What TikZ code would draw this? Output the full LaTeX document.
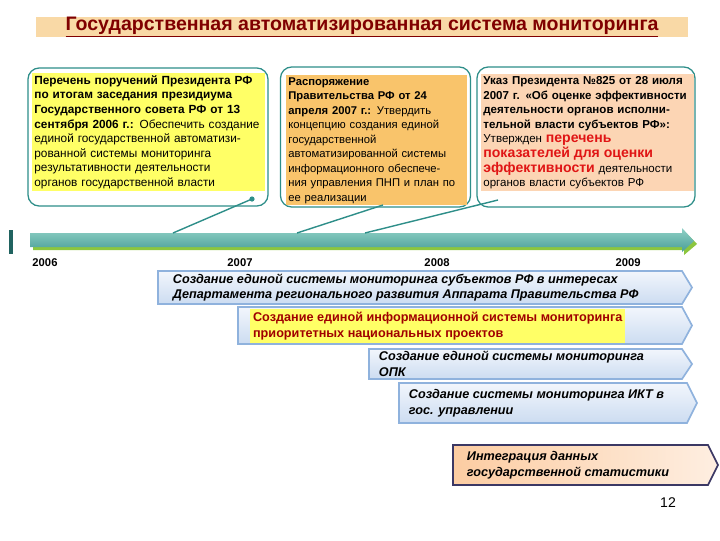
\documentclass[tikz,border=0pt]{standalone}
\usepackage{fontspec}
\setmainfont{Liberation Sans}
\usetikzlibrary{arrows.meta,positioning,calc,backgrounds}
\definecolor{titlebar}{HTML}{F9D9A6}
\definecolor{titletext}{HTML}{800000}
\definecolor{tealline}{HTML}{2E8E89}
\definecolor{hlyellow}{HTML}{FFFF66}
\definecolor{hlorange}{HTML}{F9C46B}
\definecolor{hlpeach}{HTML}{FCD5B4}
\definecolor{redtext}{HTML}{E01515}
\definecolor{darkred}{HTML}{A00000}
\definecolor{chevedge}{HTML}{8FB2DD}
\definecolor{chevtop}{HTML}{F2F6FC}
\definecolor{chevbot}{HTML}{CCDCF1}
\definecolor{navy}{HTML}{3B3864}
\definecolor{tltop}{HTML}{8FD0C6}
\definecolor{tlbot}{HTML}{4A9F97}
\definecolor{tlgreen}{HTML}{8CC63F}

% chevron bar: left x, top y, tip x, bottom y (in px)
\newcommand{\chevbar}[5][]{%
  \path[chev,#1] (#2,#3) -- ({#4-10},#3) -- (#4,{(#3+#5)/2}) -- ({#4-10},#5) -- (#2,#5) -- cycle;}
\newcommand{\redbig}[1]{{\color{redtext}\fontsize{10}{10.6}\selectfont\bfseries #1}}

\begin{document}
\begin{tikzpicture}[x=0.025cm, y=-0.025cm,
    callout/.style={draw=tealline, line width=0.9pt, rounded corners=8pt, fill=white},
    doctext/.style={anchor=north west, align=left, inner sep=1.5pt, font=\fontsize{8.4}{10.4}\selectfont},
    chev/.style={draw=chevedge, line width=1.2pt, top color=chevtop, bottom color=chevbot},
    chevtext/.style={anchor=west, align=left, font=\fontsize{9}{11}\selectfont\bfseries\itshape},
    tail/.style={draw=tealline, line width=1pt},
    year/.style={font=\fontsize{8}{9}\selectfont\bfseries},
]
\useasboundingbox (0,0) rectangle (720,540);

% title
\node[fill=titlebar, minimum width=16.3cm, minimum height=0.5cm, inner sep=0pt,
      font=\fontsize{13.9}{16}\selectfont\bfseries, text=titletext] (title) at (362,27)
      {\underline{Государственная автоматизированная система мониторинга}};

% document boxes
\node[callout, minimum width=6cm, minimum height=3.45cm] (box1) at (148,137) {};
\node[callout, minimum width=4.75cm, minimum height=3.5cm] (box2) at (375.5,137) {};
\node[callout, minimum width=5.45cm, minimum height=3.5cm] (box3) at (586,137) {};

\node[doctext, fill=hlyellow, text width=5.7cm] (doc1) at (32,73)
  {\textbf{Перечень поручений Президента РФ}\\
   \textbf{по итогам заседания президиума}\\
   \textbf{Государственного совета РФ от 13}\\
   \textbf{сентября 2006 г.:} Обеспечить создание\\
   единой государственной автоматизи-\\
   рованной системы мониторинга\\
   результативности деятельности\\
   органов государственной власти};
\node[doctext, fill=hlorange, text width=4.4cm, font=\fontsize{8}{10.3}\selectfont] (doc2) at (286,75)
  {\textbf{Распоряжение}\\
   \textbf{Правительства РФ от 24}\\
   \textbf{апреля 2007 г.:} Утвердить\\
   концепцию создания единой\\
   государственной\\
   автоматизированной системы\\
   информационного обеспече-\\
   ния управления ПНП и план по\\
   ее реализации};
\node[doctext, fill=hlpeach, text width=5.2cm, font=\fontsize{8.2}{10.4}\selectfont] (doc3) at (481,74)
  {\textbf{Указ Президента №825 от 28 июля}\\
   \textbf{2007 г. «Об оценке эффективности}\\
   \textbf{деятельности органов исполни-}\\
   \textbf{тельной власти субъектов РФ»:}\\
   Утвержден \redbig{перечень}\\
   \redbig{показателей для оценки}\\
   \redbig{эффективности} деятельности\\
   органов власти субъектов РФ};

% timeline
\fill[tlgreen] (33,236) -- (684,236) -- (684,231) -- (697,244) -- (684,255) -- (684,250) -- (33,250) -- cycle;
\path[top color=tltop, bottom color=tlbot] (30,233) -- (682,233) -- (682,228) -- (694,241) -- (682,252) -- (682,247) -- (30,247) -- cycle;
\draw[draw=tealline!70!black, line width=2.2pt] (11,230) -- (11,254);
\coordinate (t1) at (173,233);
\coordinate (t2) at (297,233);
\coordinate (t3) at (365,233);
\coordinate (c1) at (252,199);
\coordinate (c2) at (383,205);
\coordinate (c3) at (498,200);
\draw[tail] (c1) -- (t1);
\fill[tealline] (c1) circle (2.6);
\draw[tail] (c2) -- (t2);
\draw[tail] (c3) -- (t3);

\node[year] (y2006) at (45,263) {2006};
\node[year] (y2007) at (240,263) {2007};
\node[year] (y2008) at (437,263) {2008};
\node[year] (y2009) at (628,263) {2009};

% activity bars
\chevbar{158}{271}{692}{304}
\node[chevtext] (bar1) at (168,287.5)
  {Создание единой системы мониторинга субъектов РФ в интересах\\
   Департамента регионального развития Аппарата Правительства РФ};
\chevbar{238}{307}{692}{344}
\node[chevtext, fill=hlyellow, text=darkred, font=\fontsize{9}{11}\selectfont\bfseries, inner sep=2pt] (bar2) at (250,326)
  {Создание единой информационной системы мониторинга\\
   приоритетных национальных проектов};
\chevbar{369}{349}{692}{379}
\node[chevtext] (bar3) at (374,364)
  {Создание единой системы мониторинга\\
   ОПК};
\chevbar{399}{383}{697}{423}
\node[chevtext] (bar4) at (404,403)
  {Создание системы мониторинга ИКТ в\\
   гос. управлении};
\chevbar[draw=navy, left color=hlpeach!90!orange, right color=hlpeach!40]{453}{445}{718}{485}
\node[chevtext] (bar5) at (462,465)
  {Интеграция данных\\
   государственной статистики};

\node[font=\fontsize{10}{12}\selectfont] (pagenum) at (668,503) {12};
\end{tikzpicture}
\end{document}
